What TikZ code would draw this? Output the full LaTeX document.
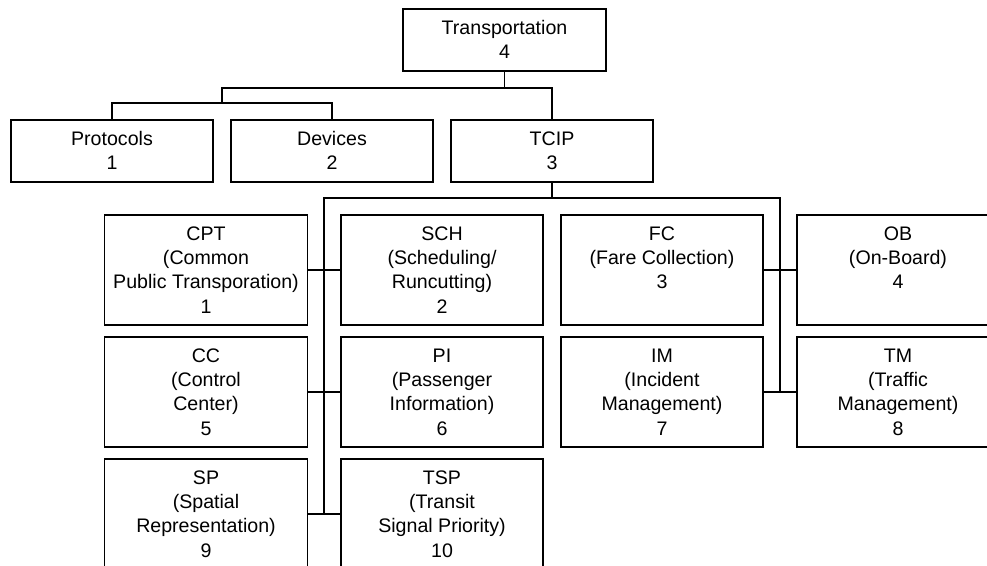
\documentclass[tikz,border=0pt]{standalone}
\usepackage{fontspec}
\setmainfont{Liberation Sans}
\newcommand{\boxtxt}[3]{\parbox[c][#1pt][t]{#2pt}{\centering\fontsize{19.6}{24.4}\selectfont\rule{0pt}{25pt}#3}}
\tikzset{
  unitbox/.style={draw=black, line width=1.4pt, inner sep=0pt, fill=white},
  link/.style={draw=black, line width=1.4pt},
}
\begin{document}
\begin{tikzpicture}[x=1pt, y=-1pt]
  \useasboundingbox (0,0) rectangle (987,565);
  \clip (0,0) rectangle (987,565);
  \fill[white] (0,0) rectangle (987,565);

  % top level
  \node[unitbox] (trans) at (504.5,40) {\boxtxt{62}{203}{Transportation\\4}};

  % second level
  \node[unitbox] (prot) at (112,151) {\boxtxt{62}{202}{Protocols\\1}};
  \node[unitbox] (dev)  at (332,151) {\boxtxt{62}{202}{Devices\\2}};
  \node[unitbox] (tcip) at (552,151) {\boxtxt{62}{202}{TCIP\\3}};

  % TCIP components
  \node[unitbox] (cpt) at (206,270) {\boxtxt{110}{203}{CPT\\(Common\\Public Transporation)\\1}};
  \node[unitbox] (sch) at (442,270) {\boxtxt{110}{202}{SCH\\(Scheduling/\\Runcutting)\\2}};
  \node[unitbox] (fc)  at (662,270) {\boxtxt{110}{202}{FC\\(Fare Collection)\\3}};
  \node[unitbox] (ob)  at (898,270) {\boxtxt{110}{202}{OB\\(On-Board)\\4}};

  \node[unitbox] (cc)  at (206,392) {\boxtxt{110}{203}{CC\\(Control\\Center)\\5}};
  \node[unitbox] (pi)  at (442,392) {\boxtxt{110}{202}{PI\\(Passenger\\Information)\\6}};
  \node[unitbox] (im)  at (662,392) {\boxtxt{110}{202}{IM\\(Incident\\Management)\\7}};
  \node[unitbox] (tm)  at (898,392) {\boxtxt{110}{202}{TM\\(Traffic\\Management)\\8}};

  \node[unitbox] (sp)  at (206,514) {\boxtxt{110}{203}{SP\\(Spatial\\Representation)\\9}};
  \node[unitbox] (tsp) at (442,514) {\boxtxt{110}{202}{TSP\\(Transit\\Signal Priority)\\10}};

  % junction points
  \coordinate (jtop) at (504.5,88);
  \coordinate (jpd)  at (222,103);
  \coordinate (jtc)  at (552,198);
  \coordinate (trL)  at (324,198);
  \coordinate (trR)  at (780,198);

  % top level connectors
  \draw[link] (trans.south) -- (jtop);
  \draw[link] (tcip.north) |- (jpd |- jtop) -- (jpd);
  \draw[link] (prot.north) |- (jpd) -| (dev.north);

  % TCIP trunk lines
  \draw[link] (tcip.south) -- (jtc);
  \draw[link] (sp.east -| trL) -- (trL) -- (trR) -- (im.east -| trR);

  % pairs joined across the trunks
  \draw[link] (cpt.east) -- (sch.west);
  \draw[link] (cc.east) -- (pi.west);
  \draw[link] (sp.east) -- (tsp.west);
  \draw[link] (fc.east) -- (ob.west);
  \draw[link] (im.east) -- (tm.west);
\end{tikzpicture}
\end{document}
